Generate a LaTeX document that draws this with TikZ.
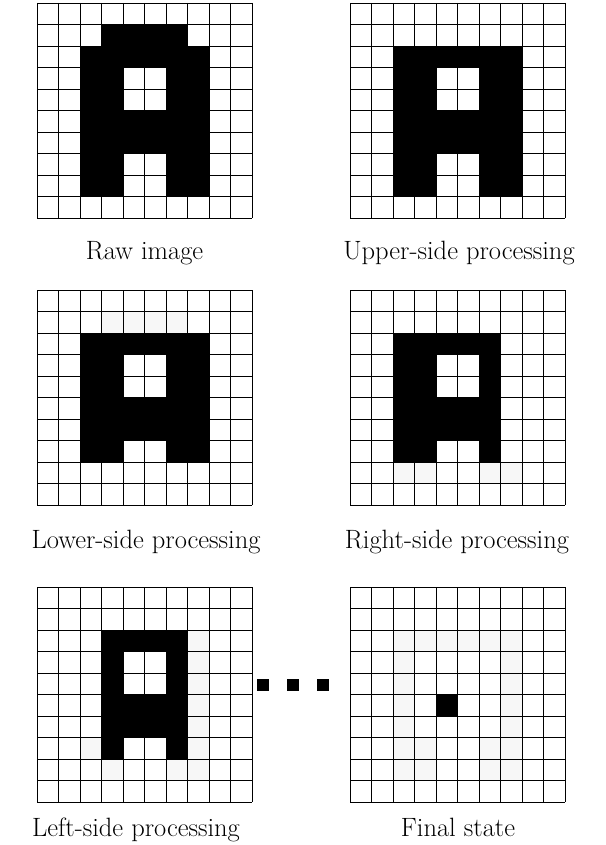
\documentclass[tikz,border=0pt]{standalone}
\begin{document}
\begin{tikzpicture}[x=1pt,y=-1pt,
  blk/.style={fill=black},
  ghost/.style={fill=black!3},
  gridline/.style={draw=black,line width=0.9pt},
  lbl/.style={anchor=base,inner sep=0pt,font=\fontsize{26.5}{30}\selectfont},
  dotsq/.style={fill=black}]
\useasboundingbox (0,0) rectangle (605,845);
\fill[white] (0,0) rectangle (605,845);
\newcommand\mygrid[3]{%
  \begin{scope}[shift={(#1,#2)},x=21.5pt,y=-21.5pt]
    #3
    \foreach \i in {0,...,10} {
      \draw[gridline] (\i,0) -- (\i,10);
      \draw[gridline] (0,\i) -- (10,\i);
    }
  \end{scope}}
\newcommand\cells[2]{\foreach \c/\r in {#2} {\fill[#1] (\c,\r) rectangle ++(1,1);}}
% Raw image
\mygrid{37}{3}{%
  \cells{blk}{3/1,4/1,5/1,6/1,
    2/2,3/2,4/2,5/2,6/2,7/2,
    2/3,3/3,6/3,7/3, 2/4,3/4,6/4,7/4,
    2/5,3/5,4/5,5/5,6/5,7/5, 2/6,3/6,4/6,5/6,6/6,7/6,
    2/7,3/7,6/7,7/7, 2/8,3/8,6/8,7/8}}
% Upper-side
\mygrid{350}{3}{%
  \cells{blk}{2/2,3/2,4/2,5/2,6/2,7/2,
    2/3,3/3,6/3,7/3, 2/4,3/4,6/4,7/4,
    2/5,3/5,4/5,5/5,6/5,7/5, 2/6,3/6,4/6,5/6,6/6,7/6,
    2/7,3/7,6/7,7/7, 2/8,3/8,6/8,7/8}}
% Lower-side
\mygrid{37}{290}{%
  \cells{ghost}{3/1,4/1,5/1,6/1}
  \cells{blk}{2/2,3/2,4/2,5/2,6/2,7/2,
    2/3,3/3,6/3,7/3, 2/4,3/4,6/4,7/4,
    2/5,3/5,4/5,5/5,6/5,7/5, 2/6,3/6,4/6,5/6,6/6,7/6,
    2/7,3/7,6/7,7/7}}
% Right-side
\mygrid{350}{290}{%
  \cells{ghost}{2/8,3/8,6/8,7/8}
  \cells{blk}{2/2,3/2,4/2,5/2,6/2,
    2/3,3/3,6/3, 2/4,3/4,6/4,
    2/5,3/5,4/5,5/5,6/5, 2/6,3/6,4/6,5/6,6/6,
    2/7,3/7,6/7}}
% Left-side
\mygrid{37}{587}{%
  \cells{ghost}{7/2,7/3,7/4,7/5,7/6,7/7,7/8,2/7,3/8,6/8}
  \cells{blk}{3/2,4/2,5/2,6/2,
    3/3,6/3, 3/4,6/4,
    3/5,4/5,5/5,6/5, 3/6,4/6,5/6,6/6,
    3/7,6/7}}
% Final state
\mygrid{350}{587}{%
  \cells{ghost}{2/2,3/2,4/2,5/2,6/2,7/2,
    2/3,2/4,2/5,2/6,2/7,2/8,
    7/3,7/4,7/5,7/6,7/7,7/8,
    3/7,3/8,6/7,6/8}
  \cells{blk}{4/5}}
% dots
\fill[dotsq] (257,679) rectangle ++(12,12);
\fill[dotsq] (287,679) rectangle ++(12,12);
\fill[dotsq] (317,679) rectangle ++(12,12);
% labels
\node[lbl] (l1) at (144.5,259) {Raw image};
\node[lbl] (l2) at (459,259) {Upper-side processing};
\node[lbl] (l3) at (146,548) {Lower-side processing};
\node[lbl] (l4) at (457,548) {Right-side processing};
\node[lbl] (l5) at (136,836) {Left-side processing};
\node[lbl] (l6) at (458,836) {Final state};
\end{tikzpicture}
\end{document}
